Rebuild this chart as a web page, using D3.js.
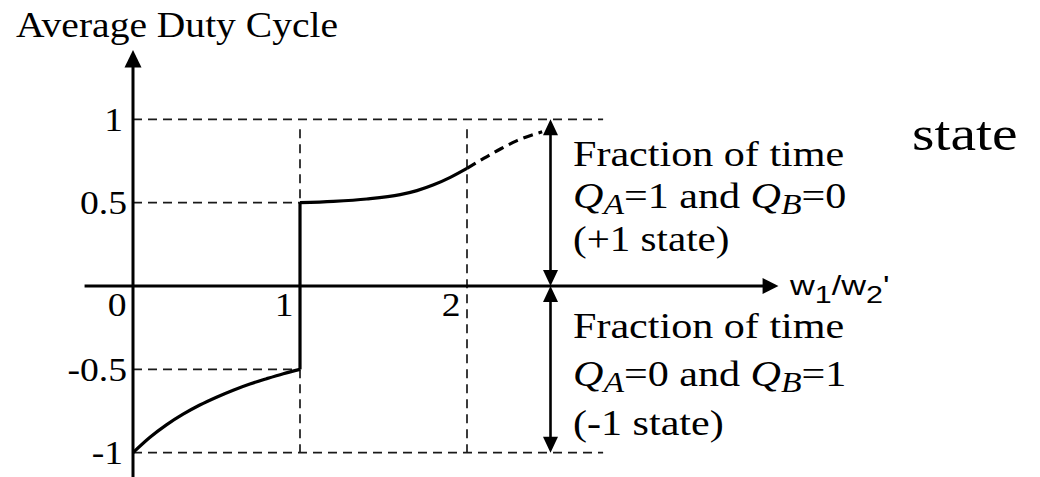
<!DOCTYPE html>
<html>
<head>
<meta charset="utf-8">
<script src="https://cdn.jsdelivr.net/npm/d3@7"></script>
<style>
  html, body { margin: 0; padding: 0; background: #fff; }
  svg { display: block; }
</style>
</head>
<body>
<svg id="chart" width="1040" height="477"></svg>
<script>
// Average duty cycle versus the w1/w2' ratio
const xTicks = [0, 1, 2];
const xTickLabels = ["0", "1", "2"];
const yTicks = [1, 0.5, -0.5, -1];
const yTickLabels = ["1", "0.5", "-0.5", "-1"];

// branch below 1: rises from -1 toward -0.5
const lowX = [0, 0.1, 0.2, 0.3, 0.4, 0.5, 0.6, 0.7, 0.8, 0.9, 1.0];
const lowY = [-1, -0.909, -0.833, -0.769, -0.714, -0.667, -0.625, -0.588, -0.556, -0.526, -0.5];

// branch above 1: flat near 0.5, then bending upward
const highX = [1.0, 1.2, 1.4, 1.6, 1.7, 1.8, 1.9, 2.0];
const highY = [0.5, 0.508, 0.522, 0.548, 0.572, 0.607, 0.652, 0.706];

// continuation past 2 (dashed)
const extX = [2.0, 2.1, 2.2, 2.3, 2.45];
const extY = [0.706, 0.765, 0.822, 0.872, 0.925];

const SERIF = '"Liberation Serif", "Times New Roman", serif';
const SANS = '"Liberation Sans", Arial, sans-serif';

const svg = d3.select("#chart");
const x = d3.scaleLinear().domain([0, 1]).range([133, 300]);
const y = d3.scaleLinear().domain([-1, 1]).range([452.7, 119.3]);
const SX = 1.17; // glyph widening used for the labels

const dash = "9,6";
const guideColor = "#1a1a1a";

function stretch(sel, ax, sx = SX) {
  sel.attr("transform", `translate(${ax},0) scale(${sx},1) translate(${-ax},0)`);
}

// dashed guide lines
const guides = [
  { x1: 0, y1: 1, x2: 2.815, y2: 1 },
  { x1: 0, y1: -1, x2: 2.815, y2: -1 },
  { x1: 0, y1: 0.5, x2: 1, y2: 0.5 },
  { x1: 0, y1: -0.5, x2: 1, y2: -0.5 },
  { x1: 1, y1: 0.94, x2: 1, y2: 0.5 },
  { x1: 1, y1: -0.5, x2: 1, y2: -1 },
  { x1: 2, y1: 0.94, x2: 2, y2: -1 }
];
svg.append("g").selectAll("line").data(guides).join("line")
  .attr("x1", d => x(d.x1)).attr("y1", d => y(d.y1))
  .attr("x2", d => x(d.x2)).attr("y2", d => y(d.y2))
  .attr("stroke", guideColor).attr("stroke-width", 1.7)
  .attr("stroke-dasharray", dash);

// axis lines with arrowheads
const axisStroke = 3;
svg.append("line")
  .attr("x1", x(0)).attr("y1", 477).attr("x2", x(0)).attr("y2", y(1.32))
  .attr("stroke", "#000").attr("stroke-width", axisStroke);
svg.append("path")
  .attr("d", `M${x(0)},${y(1.415)} L${x(0) - 8.5},${y(1.31)} L${x(0) + 8.5},${y(1.31)} Z`)
  .attr("fill", "#000");

svg.append("line")
  .attr("x1", x(-0.29)).attr("y1", y(0)).attr("x2", x(3.78)).attr("y2", y(0))
  .attr("stroke", "#000").attr("stroke-width", axisStroke);
svg.append("path")
  .attr("d", `M${x(3.865)},${y(0)} L${x(3.77)},${y(0) - 8} L${x(3.77)},${y(0) + 8} Z`)
  .attr("fill", "#000");

// y tick labels via d3 axis
const yAxis = svg.append("g")
  .attr("transform", `translate(${x(0) - 6},0)`)
  .call(d3.axisLeft(y).tickValues(yTicks).tickFormat((d, i) => yTickLabels[i]).tickSize(0).tickPadding(0));
yAxis.select(".domain").remove();
yAxis.selectAll("text")
  .style("font-family", SERIF).style("font-size", "33px")
  .attr("fill", "#000").attr("dy", "0.34em")
  .attr("x", d => Number.isInteger(d) ? -4 : 0)
  .each(function (d) { stretch(d3.select(this), Number.isInteger(d) ? -4 : 0, 1.14); });

// x tick labels via d3 axis
const xAxis = svg.append("g")
  .attr("transform", `translate(0,${y(0)})`)
  .call(d3.axisBottom(x).tickValues(xTicks).tickFormat((d, i) => xTickLabels[i]).tickSize(0).tickPadding(0));
xAxis.select(".domain").remove();
xAxis.selectAll("text")
  .style("font-family", SERIF).style("font-size", "33px")
  .attr("fill", "#000").attr("text-anchor", "end")
  .attr("x", -7).attr("dy", 0).attr("y", 30)
  .each(function () { stretch(d3.select(this), -7, 1.14); });

// curves
const line = d3.line().x(d => x(d[0])).y(d => y(d[1])).curve(d3.curveMonotoneX);
const curveStroke = 3.2;
svg.append("path").datum(d3.zip(lowX, lowY)).attr("d", line)
  .attr("fill", "none").attr("stroke", "#000").attr("stroke-width", curveStroke);
svg.append("line")
  .attr("x1", x(1)).attr("y1", y(-0.5)).attr("x2", x(1)).attr("y2", y(0.5))
  .attr("stroke", "#000").attr("stroke-width", curveStroke);
svg.append("path").datum(d3.zip(highX, highY)).attr("d", line)
  .attr("fill", "none").attr("stroke", "#000").attr("stroke-width", curveStroke);
svg.append("path").datum(d3.zip(extX, extY)).attr("d", line)
  .attr("fill", "none").attr("stroke", "#000").attr("stroke-width", curveStroke)
  .attr("stroke-dasharray", "10,6");

// double-headed arrows for +1 and -1 state fractions
const ax = x(2.5);
const head = (tipY, dir) =>
  `M${ax},${tipY} L${ax - 7.5},${tipY + dir * 16} L${ax + 7.5},${tipY + dir * 16} Z`;
[[1, 0], [0, -1]].forEach(([top, bot]) => {
  svg.append("line")
    .attr("x1", ax).attr("y1", y(top) + 10).attr("x2", ax).attr("y2", y(bot) - 10)
    .attr("stroke", "#000").attr("stroke-width", 2.6);
  svg.append("path").attr("d", head(y(top), 1)).attr("fill", "#000");
  svg.append("path").attr("d", head(y(bot), -1)).attr("fill", "#000");
});

// text blocks
function textLine(px, py, size, parts, sx = SX) {
  const t = svg.append("text").attr("x", px).attr("y", py)
    .style("font-family", SERIF).style("font-size", size + "px").attr("fill", "#000");
  parts.forEach(p => {
    const s = t.append("tspan").text(p.t);
    if (p.i) s.style("font-style", "italic");
    if (p.sub) s.style("font-size", (size * 0.8) + "px").attr("dy", 6);
    if (p.up) s.attr("dy", -6);
  });
  stretch(t, px, sx);
  return t;
}

textLine(16, 37, 35, [{ t: "Average Duty Cycle" }], 1.13);

const blockSize = 36;
textLine(573, 166, blockSize, [{ t: "Fraction of time" }]);
textLine(573, 208, blockSize, [
  { t: "Q", i: true }, { t: "A", i: true, sub: true }, { t: "=1 and ", up: true },
  { t: "Q", i: true }, { t: "B", i: true, sub: true }, { t: "=0", up: true }
]);
textLine(573, 251, blockSize, [{ t: "(+1 state)" }], 1.14);

textLine(573, 338, blockSize, [{ t: "Fraction of time" }]);
textLine(573, 386, blockSize, [
  { t: "Q", i: true }, { t: "A", i: true, sub: true }, { t: "=0 and ", up: true },
  { t: "Q", i: true }, { t: "B", i: true, sub: true }, { t: "=1", up: true }
]);
textLine(573, 435, blockSize, [{ t: "(-1 state)" }]);

textLine(912, 150, 48, [{ t: "state" }], 1.2);

// x-axis title w1/w2'
const wt = svg.append("text").attr("x", 790).attr("y", 295)
  .style("font-family", SANS).style("font-size", "27px").attr("fill", "#000");
wt.append("tspan").text("w");
wt.append("tspan").attr("dy", 8).style("font-size", "24px").text("1");
wt.append("tspan").attr("dy", -8).text("/w");
wt.append("tspan").attr("dy", 8).style("font-size", "24px").text("2");
wt.append("tspan").attr("dy", -8).text("'");
stretch(wt, 790, 1.27);
</script>
</body>
</html>
